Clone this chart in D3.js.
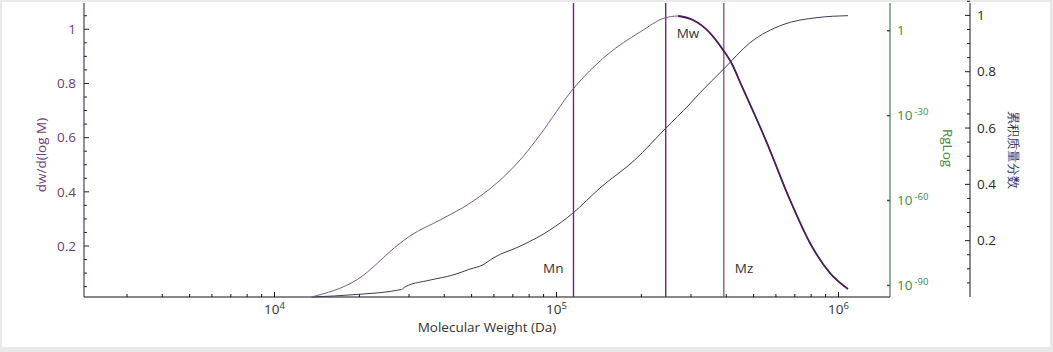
<!DOCTYPE html>
<html>
<head>
<meta charset="utf-8">
<script src="https://cdn.jsdelivr.net/npm/d3@7"></script>
<style>
  body { margin: 0; background: #e9e9e9; }
  text { font-family: "Open Sans", "Noto Sans", sans-serif; }
</style>
</head>
<body>
<div id="vizcontainer"></div>
<script>
// dw/d(log M) distribution
const dwMW = [13550, 19570, 27860, 30230, 38630, 49330, 61370, 76070, 87400, 114400,
  151000, 197900, 242700, 269800, 305000, 350400, 389500, 420000, 447700, 557900,
  673000, 792500, 933400, 1081000];
const dwValues = [0.012, 0.075, 0.210, 0.237, 0.296, 0.358, 0.432, 0.530, 0.610, 0.779,
  0.905, 0.990, 1.042, 1.049, 1.034, 0.986, 0.924, 0.870, 0.805, 0.580,
  0.370, 0.211, 0.100, 0.041];

// cumulative mass fraction
const cumMW = [13550, 19570, 28250, 29040, 35580, 42930, 49330, 54830, 59560, 76070,
  94810, 114400, 142600, 189700, 242700, 297400, 322800, 389500, 485800, 635300,
  839000, 1081000];
const cumValues = [0, 0.009, 0.027, 0.036, 0.060, 0.078, 0.099, 0.114, 0.138, 0.185,
  0.238, 0.298, 0.387, 0.487, 0.597, 0.686, 0.725, 0.807, 0.903, 0.967,
  0.992, 0.999];

// averages
const markerNames = ['Mn', 'Mw', 'Mz'];
const markerValues = [114900, 244000, 392000];

// axis ticks
const xMajor = [1e4, 1e5, 1e6];
const dwTicks = [0.2, 0.4, 0.6, 0.8, 1];
const rgExp = [0, -30, -60, -90];
const cumTicks = [0.2, 0.4, 0.6, 0.8, 1];

const width = 1053,
  height = 352;
const pLeft = 84, pRight = 890, pTop = 3, pBottom = 297;
const rightAxis = 970;

let viz = d3.select('#vizcontainer')
  .append('svg')
  .attr('width', width)
  .attr('height', height)
  .style('display', 'block');

viz.append('rect')
  .attr('x', 2).attr('y', 2)
  .attr('width', 1048).attr('height', 345)
  .attr('fill', '#fff');

const x = d3.scaleLog().domain([2111, 1.523e6]).range([pLeft, pRight]);
const yDw = d3.scaleLinear().domain([0.0118, 1.097]).range([pBottom, pTop]);
const yRg = d3.scaleLinear().domain([-94.1, 9.8]).range([pBottom, pTop]);
const yCum = d3.scaleLinear().domain([0, 1.044]).range([pBottom, pTop]);

const purple = '#6e3b7e', green = '#3d8a3d';

// minor tick values
const xMinor = [];
[1e3, 1e4, 1e5, 1e6].forEach(d => {
  for (let k = 2; k <= 9; k++) {
    const v = d * k;
    if (v > x.domain()[0] && v < x.domain()[1]) xMinor.push(v);
  }
});
const fineTicks = d3.range(0.05, 1.06, 0.05).map(v => +v.toFixed(2));

// bottom axis
const gx = viz.append('g');
gx.append('line')
  .attr('x1', pLeft).attr('x2', pRight)
  .attr('y1', pBottom).attr('y2', pBottom)
  .attr('stroke', '#111');
gx.selectAll('.minor')
  .data(xMinor)
  .join('line')
  .attr('class', 'minor')
  .attr('x1', d => x(d)).attr('x2', d => x(d))
  .attr('y1', pBottom).attr('y2', pBottom - 3)
  .attr('stroke', '#111');
gx.selectAll('.major')
  .data(xMajor)
  .join('line')
  .attr('class', 'major')
  .attr('x1', d => x(d)).attr('x2', d => x(d))
  .attr('y1', pBottom).attr('y2', pBottom - 5)
  .attr('stroke', '#111');
const xl = gx.selectAll('.xl')
  .data(xMajor)
  .join('text')
  .attr('class', 'xl')
  .attr('x', d => x(d))
  .attr('y', 314)
  .attr('text-anchor', 'middle')
  .attr('font-size', 13.5)
  .attr('fill', '#333');
xl.append('tspan').text('10');
xl.append('tspan').attr('dy', -5).attr('font-size', 9.5).text(d => Math.round(Math.log10(d)));
gx.append('text')
  .attr('x', (pLeft + pRight) / 2)
  .attr('y', 332)
  .attr('text-anchor', 'middle')
  .attr('font-size', 13.5)
  .attr('fill', '#333')
  .text('Molecular Weight (Da)');

// left axis
const gl = viz.append('g');
gl.append('line')
  .attr('x1', pLeft).attr('x2', pLeft)
  .attr('y1', pTop).attr('y2', pBottom)
  .attr('stroke', '#2a1a33');
gl.selectAll('.tick')
  .data(fineTicks)
  .join('line')
  .attr('class', 'tick')
  .attr('x1', pLeft).attr('x2', d => pLeft + (dwTicks.includes(d) ? 5 : 3))
  .attr('y1', d => yDw(d)).attr('y2', d => yDw(d))
  .attr('stroke', '#2a1a33');
gl.selectAll('text')
  .data(dwTicks)
  .join('text')
  .attr('x', 76)
  .attr('y', d => yDw(d))
  .attr('dy', '0.35em')
  .attr('text-anchor', 'end')
  .attr('font-size', 13.5)
  .attr('fill', purple)
  .text(d => d);
viz.append('text')
  .attr('transform', 'translate(46,155) rotate(-90)')
  .attr('text-anchor', 'middle')
  .attr('font-size', 13.5)
  .attr('fill', purple)
  .text('dw/d(log M)');

// RgLog axis
const gr = viz.append('g');
gr.append('line')
  .attr('x1', pRight).attr('x2', pRight)
  .attr('y1', pTop).attr('y2', pBottom)
  .attr('stroke', '#2f5f2f');
gr.selectAll('line.t')
  .data(rgExp)
  .join('line')
  .attr('class', 't')
  .attr('x1', pRight - 3).attr('x2', pRight)
  .attr('y1', d => yRg(d)).attr('y2', d => yRg(d))
  .attr('stroke', '#2f5f2f')
  .attr('stroke-width', 1.5);
const rl = gr.selectAll('text')
  .data(rgExp)
  .join('text')
  .attr('x', 897)
  .attr('y', d => yRg(d))
  .attr('dy', '0.35em')
  .attr('font-size', 13.5)
  .attr('fill', green);
rl.filter(d => d === 0).text('1');
rl.filter(d => d !== 0).append('tspan').text('10');
rl.filter(d => d !== 0).append('tspan')
  .attr('dx', 2).attr('dy', -5).attr('font-size', 9.5)
  .text(d => d);
viz.append('text')
  .attr('transform', 'translate(943,148) rotate(90)')
  .attr('text-anchor', 'middle')
  .attr('font-size', 13.5)
  .attr('fill', green)
  .text('RgLog');

// cumulative axis
const gc = viz.append('g');
gc.append('line')
  .attr('x1', rightAxis).attr('x2', rightAxis)
  .attr('y1', pTop).attr('y2', pBottom)
  .attr('stroke', '#1a1a2a');
gc.selectAll('line.t')
  .data(fineTicks)
  .join('line')
  .attr('class', 't')
  .attr('x1', d => rightAxis - (cumTicks.includes(d) ? 5 : 3)).attr('x2', rightAxis)
  .attr('y1', d => yCum(d)).attr('y2', d => yCum(d))
  .attr('stroke', '#1a1a2a');
gc.selectAll('text')
  .data(cumTicks)
  .join('text')
  .attr('x', 977)
  .attr('y', d => yCum(d))
  .attr('dy', '0.35em')
  .attr('font-size', 13.5)
  .attr('fill', '#2a2a2a')
  .text(d => d);
viz.append('text')
  .attr('transform', 'translate(1009,150) rotate(90)')
  .attr('text-anchor', 'middle')
  .attr('font-size', 13)
  .attr('fill', '#33336e')
  .text('累积质量分数');

// marker lines
viz.selectAll('.mline')
  .data(markerValues)
  .join('line')
  .attr('class', 'mline')
  .attr('x1', d => x(d)).attr('x2', d => x(d))
  .attr('y1', pTop).attr('y2', pBottom)
  .attr('stroke', (d, i) => i === 2 ? '#8a5a98' : '#6a2a7a')
  .attr('stroke-width', 1.4);
viz.selectAll('.mlabel')
  .data(markerNames)
  .join('text')
  .attr('class', 'mlabel')
  .attr('x', (d, i) => i === 0 ? x(markerValues[i]) - 10 : x(markerValues[i]) + 11)
  .attr('y', (d, i) => i === 1 ? 33 : 268)
  .attr('dy', '0.35em')
  .attr('text-anchor', (d, i) => i === 0 ? 'end' : 'start')
  .attr('font-size', 13.5)
  .attr('fill', '#333')
  .text(d => d);

// curves
const dwData = dwMW.map((m, i) => [m, dwValues[i]]);
const cumData = cumMW.map((m, i) => [m, cumValues[i]]);

const dwLine = d3.line()
  .x(d => x(d[0]))
  .y(d => yDw(d[1]))
  .curve(d3.curveMonotoneX);
const cumLine = d3.line()
  .x(d => x(d[0]))
  .y(d => yCum(d[1]))
  .curve(d3.curveMonotoneX);

viz.append('path')
  .attr('d', cumLine(cumData))
  .attr('fill', 'none')
  .attr('stroke', '#3c3c5c')
  .attr('stroke-width', 1);
viz.append('path')
  .attr('d', dwLine(dwData))
  .attr('fill', 'none')
  .attr('stroke', '#7c5a88')
  .attr('stroke-width', 1);
viz.append('path')
  .attr('d', dwLine(dwData.filter(d => d[0] >= 269800)))
  .attr('fill', 'none')
  .attr('stroke', '#4a1d5a')
  .attr('stroke-width', 1.8);
</script>
</body>
</html>
